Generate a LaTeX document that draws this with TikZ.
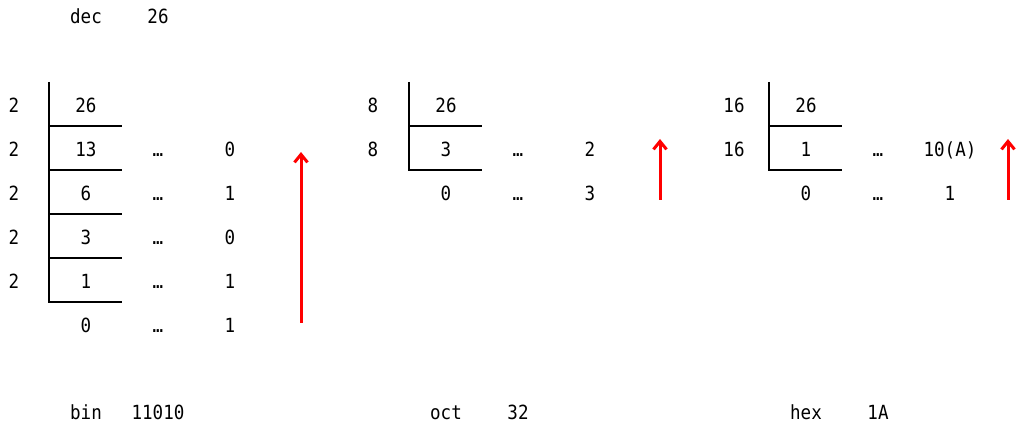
\documentclass[tikz,border=0pt]{standalone}
\usepackage{fontspec}
\setmonofont[FakeStretch=0.9]{DejaVu Sans Mono}
\usetikzlibrary{positioning,arrows.meta}

\tikzset{
  num/.style={font=\ttfamily\fontsize{19.5}{19.5}\selectfont,inner sep=0pt,anchor=base},
  bar/.style={line width=2.4pt},
  upward/.style={red,line width=3pt,-{Straight Barb[length=8pt,width=13pt,line width=3pt]}}
}

\begin{document}
\begin{tikzpicture}[x=1pt,y=-1pt]
\useasboundingbox (0,0) rectangle (1028,435);
% decimal input
\node[num] (dec) at (86,24) {dec};
\node[num] (decval) at (158,24) {26};
% base 2
\foreach \q [count=\i from 0] in {26,13,6,3,1,0}
  \node[num] (bq\i) at (86,{113+44*\i}) {\q};
\foreach \i in {0,...,4}{
  \node[num] (bd\i) at (14,{113+44*\i}) {2};
  \draw[bar] (49,{126+44*\i}) -- (122,{126+44*\i});
}
\foreach \r [count=\i] in {0,1,0,1,1}{
  \node[num] (bdots\i) at (158,{113+44*\i}) {…};
  \node[num] (br\i) at (230,{113+44*\i}) {\r};
}
\draw[bar] (49,82) -- (49,303);
\coordinate (bfrom) at (301,323);
\coordinate (bto) at (301,152);
\draw[upward] (bfrom) -- (bto);
\node[num] (bin) at (86,420) {bin};
\node[num] (binval) at (158,420) {11010};
% base 8
\foreach \q [count=\i from 0] in {26,3,0}
  \node[num] (oq\i) at (446,{113+44*\i}) {\q};
\foreach \i in {0,1}{
  \node[num] (od\i) at (373,{113+44*\i}) {8};
  \draw[bar] (409,{126+44*\i}) -- (482,{126+44*\i});
}
\foreach \r [count=\i] in {2,3}{
  \node[num] (odots\i) at (518,{113+44*\i}) {…};
  \node[num] (or\i) at (590,{113+44*\i}) {\r};
}
\draw[bar] (409,82) -- (409,171);
\coordinate (ofrom) at (660,200);
\coordinate (oto) at (660,139);
\draw[upward] (ofrom) -- (oto);
\node[num] (oct) at (446,420) {oct};
\node[num] (octval) at (518,420) {32};
% base 16
\foreach \q [count=\i from 0] in {26,1,0}
  \node[num] (hq\i) at (806,{113+44*\i}) {\q};
\foreach \i in {0,1}{
  \node[num] (hd\i) at (734,{113+44*\i}) {16};
  \draw[bar] (769,{126+44*\i}) -- (842,{126+44*\i});
}
\foreach \r [count=\i] in {10(A),1}{
  \node[num] (hdots\i) at (878,{113+44*\i}) {…};
  \node[num] (hr\i) at (950,{113+44*\i}) {\r};
}
\draw[bar] (769,82) -- (769,171);
\coordinate (hfrom) at (1008,200);
\coordinate (hto) at (1008,139);
\draw[upward] (hfrom) -- (hto);
\node[num] (hex) at (806,420) {hex};
\node[num] (hexval) at (878,420) {1A};
\end{tikzpicture}
\end{document}
